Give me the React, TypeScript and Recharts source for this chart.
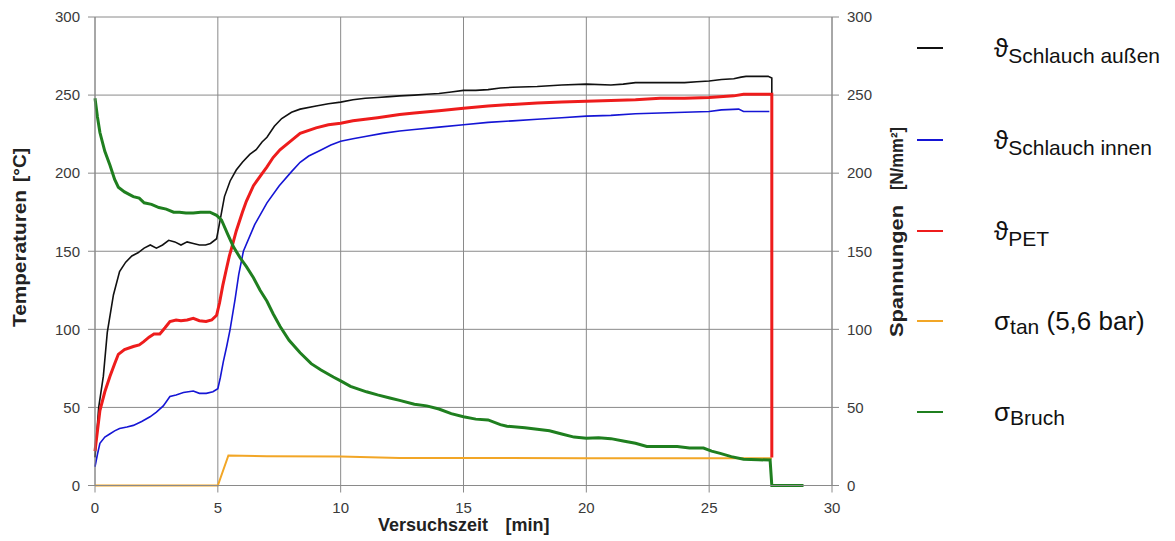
import { LineChart, Line, XAxis, YAxis, CartesianGrid } from "recharts";

// Versuchszeit [min] -> Temperatur [°C] bzw. Spannung [N/mm²]
const schlauchAussen: [number, number][] = [
  [0, 18], [0.15, 50], [0.34, 70], [0.5, 98], [0.75, 122], [1.0, 137], [1.25, 143], [1.5, 147],
  [1.75, 149], [2.0, 152], [2.25, 154], [2.5, 152], [2.75, 154], [3.0, 157], [3.25, 156], [3.5, 154],
  [3.75, 156], [4.0, 155], [4.25, 154], [4.5, 154], [4.7, 155], [4.95, 158], [5.07, 168], [5.27, 185],
  [5.5, 195], [5.75, 202], [6.0, 207], [6.3, 212], [6.56, 215], [6.8, 220], [7.0, 223], [7.3, 230],
  [7.6, 235], [8.0, 239], [8.35, 241], [9.0, 243], [9.5, 244.5], [10, 245.5], [10.5, 247], [11, 248],
  [11.5, 248.5], [12, 249], [12.4, 249.5], [13, 250], [13.5, 250.5], [14, 251], [14.5, 252], [15, 253],
  [15.5, 253], [16, 253.5], [16.5, 254.5], [17, 255], [18, 255.5], [19, 256.5], [20, 257], [21, 256.5],
  [21.5, 257], [22, 258], [23, 258], [24, 258], [24.5, 258.5], [25, 259], [25.5, 260], [26, 260.5],
  [26.3, 261.5], [26.5, 262], [27, 262], [27.4, 262], [27.55, 261], [27.55, 250],
];

const schlauchInnen: [number, number][] = [
  [0, 12], [0.1, 20], [0.2, 27], [0.4, 31], [0.6, 33], [0.8, 35], [1.0, 36.5], [1.3, 37.5],
  [1.56, 38.5], [1.9, 41], [2.24, 44], [2.5, 47], [2.78, 51], [3.05, 57], [3.3, 58], [3.6, 59.5],
  [4.0, 60.5], [4.25, 59], [4.53, 59], [4.8, 60], [5.0, 62], [5.1, 69], [5.22, 79], [5.36, 89],
  [5.5, 100], [5.7, 119], [5.85, 135], [6.04, 150], [6.5, 167], [7.0, 181], [7.5, 192], [8.0, 201],
  [8.35, 207], [8.7, 211], [9.16, 214.5], [9.6, 218], [10, 220.5], [10.5, 222], [11, 223.5],
  [11.7, 225.5], [12.4, 227], [13, 228], [14, 229.5], [15, 231], [16, 232.5], [17, 233.5], [18, 234.5],
  [19, 235.5], [20, 236.5], [21, 237], [22, 238], [23, 238.5], [24, 239], [25, 239.5], [25.5, 240.5],
  [26.2, 241], [26.4, 239.5], [27, 239.5], [27.45, 239.5],
];

const pet: [number, number][] = [
  [0, 22], [0.1, 35], [0.2, 48], [0.4, 60], [0.61, 70], [0.8, 78], [0.95, 84], [1.2, 87], [1.56, 89],
  [1.8, 90], [1.97, 92], [2.2, 95], [2.4, 97], [2.64, 97], [2.85, 101], [3.05, 105], [3.3, 106],
  [3.5, 105.5], [3.75, 106], [4.0, 107], [4.25, 105.5], [4.52, 105], [4.75, 106], [4.95, 109],
  [5.07, 117], [5.2, 128], [5.34, 138], [5.47, 147], [5.56, 152], [5.75, 163], [6.0, 175], [6.16, 182],
  [6.45, 192], [6.72, 198], [7.0, 204], [7.25, 210], [7.53, 215], [8.0, 221], [8.35, 225.5], [9.0, 229],
  [9.5, 231], [10, 232], [10.5, 233.5], [11, 234.5], [11.5, 235.5], [12.4, 237.5], [13, 238.5], [14, 240],
  [15, 241.5], [16, 243], [17, 244], [18, 245], [19, 245.5], [20, 246], [21, 246.5], [22, 247], [23, 248],
  [24, 248], [25, 248.5], [26, 249.5], [26.4, 250.5], [27, 250.5], [27.55, 250.5], [27.55, 18],
];

const sigmaTan: [number, number][] = [
  [0, 0], [5.0, 0], [5.43, 19.2], [7, 18.8], [10, 18.5], [12.4, 17.6], [20, 17.5], [27.55, 17.5],
];

const sigmaBruch: [number, number][] = [
  [0, 248], [0.1, 236], [0.2, 226], [0.4, 214], [0.61, 205], [0.8, 196], [0.95, 191], [1.2, 188],
  [1.56, 185], [1.8, 184], [2.0, 181], [2.3, 180], [2.6, 178], [2.9, 177], [3.2, 175], [3.44, 175],
  [3.7, 174.5], [4.0, 174.5], [4.3, 175], [4.68, 175], [4.95, 173], [5.15, 170], [5.4, 161], [5.63, 153],
  [5.9, 146], [6.17, 140], [6.45, 133], [6.72, 125], [7.0, 118], [7.25, 110], [7.53, 102], [7.9, 93],
  [8.35, 85], [8.8, 78], [9.2, 74], [9.7, 69.5], [10.0, 67], [10.4, 63.5], [11.05, 60], [11.5, 58],
  [12.0, 56], [12.4, 54.5], [13, 52], [13.5, 51], [14, 49], [14.5, 46], [15, 44], [15.5, 42.5], [16, 42],
  [16.5, 39], [16.77, 38], [17.5, 37], [18, 36], [18.5, 35], [19, 33], [19.5, 31], [20, 30.2], [20.5, 30.5],
  [21, 30], [21.5, 28.5], [22, 27], [22.46, 25], [23, 25], [23.7, 25], [24.2, 24], [24.77, 24], [25.1, 22],
  [25.45, 20.6], [25.9, 18.5], [26.4, 16.8], [27, 16.5], [27.48, 16.3], [27.55, 0], [28.84, 0],
];

const xTicks = [0, 5, 10, 15, 20, 25, 30];
const yTicks = [0, 50, 100, 150, 200, 250, 300];

const toRows = (pts: [number, number][]) => pts.map(([t, v]) => ({ t, v }));

const FONT = "Arial, 'Liberation Sans', sans-serif";
const GRID = "#8a8a8a";
const tickStyle = { fill: "#3a3a3a", fontSize: 15, fontFamily: FONT };

const legend = [
  { sym: "\u03D1", sub: "Schlauch außen", rest: "", color: "#111111", y: 48 },
  { sym: "\u03D1", sub: "Schlauch innen", rest: "", color: "#1515d5", y: 140 },
  { sym: "\u03D1", sub: "PET", rest: "", color: "#ee1c1c", y: 231 },
  { sym: "\u03C3", sub: "tan", rest: " (5,6 bar)", color: "#f2a626", y: 321 },
  { sym: "\u03C3", sub: "Bruch", rest: "", color: "#1f7f1f", y: 412 },
];

export default function App() {
  return (
    <div style={{ position: "fixed", left: 0, top: 0, width: 1175, height: 541, background: "#fff" }}>
      <LineChart width={1175} height={541} margin={{ top: 17, right: 273, bottom: 0, left: 0 }}>
        <CartesianGrid yAxisId="l" stroke={GRID} strokeWidth={1} />
        <XAxis
          dataKey="t"
          type="number"
          domain={[0, 30]}
          ticks={xTicks}
          height={55.5}
          stroke={GRID}
          tickSize={7}
          tickMargin={10}
          tick={tickStyle}
          label={{
            content: () => (
              <text y={531} fontFamily={FONT} fontSize={18} fontWeight="bold" fill="#222">
                <tspan x={378}>Versuchszeit</tspan>
                <tspan x={505.5}>[min]</tspan>
              </text>
            ),
          }}
        />
        <YAxis
          yAxisId="l"
          domain={[0, 300]}
          ticks={yTicks}
          width={95}
          stroke={GRID}
          tickSize={7}
          tickMargin={8}
          tick={tickStyle}
          label={{
            content: () => (
              <g fontFamily={FONT} fontSize={18} fontWeight="bold" fill="#222">
                <text x={26} y={258.5} transform="rotate(-90 26 258.5)" textAnchor="middle" textLength={137} lengthAdjust="spacingAndGlyphs">
                  Temperaturen
                </text>
                <text x={26} y={165} transform="rotate(-90 26 165)" textAnchor="middle" textLength={34} lengthAdjust="spacingAndGlyphs">
                  [°C]
                </text>
              </g>
            ),
          }}
        />
        <YAxis
          yAxisId="r"
          orientation="right"
          domain={[0, 300]}
          ticks={yTicks}
          width={70}
          stroke={GRID}
          tickSize={7}
          tickMargin={8}
          tick={tickStyle}
          label={{
            content: () => (
              <g fontFamily={FONT} fontSize={18} fontWeight="bold" fill="#222">
                <text x={903} y={271} transform="rotate(-90 903 271)" textAnchor="middle" textLength={132} lengthAdjust="spacingAndGlyphs">
                  Spannungen
                </text>
                <text x={903} y={158.5} transform="rotate(-90 903 158.5)" textAnchor="middle" textLength={63} lengthAdjust="spacingAndGlyphs">
                  [N/mm²]
                </text>
              </g>
            ),
          }}
        />
        <Line yAxisId="r" data={toRows(sigmaTan)} dataKey="v" type="linear" stroke="#f2a626" strokeWidth={2} dot={false} isAnimationActive={false} />
        <Line yAxisId="l" data={toRows(schlauchInnen)} dataKey="v" type="linear" stroke="#1515d5" strokeWidth={1.6} dot={false} isAnimationActive={false} />
        <Line yAxisId="l" data={toRows(schlauchAussen)} dataKey="v" type="linear" stroke="#111111" strokeWidth={1.6} dot={false} isAnimationActive={false} />
        <Line yAxisId="l" data={toRows(pet)} dataKey="v" type="linear" stroke="#ee1c1c" strokeWidth={3} dot={false} isAnimationActive={false} />
        <Line yAxisId="r" data={toRows(sigmaBruch)} dataKey="v" type="linear" stroke="#1f7f1f" strokeWidth={3} dot={false} isAnimationActive={false} />
      </LineChart>
      <svg width={1175} height={541} style={{ position: "absolute", left: 0, top: 0, pointerEvents: "none" }}>
        {legend.map((e) => (
          <g key={e.sub}>
            <line x1={917} x2={943} y1={e.y} y2={e.y} stroke={e.color} strokeWidth={2} />
            <text x={994} y={e.y + 9} fontFamily={FONT} fontSize={26} fill="#111">
              {e.sym}
              <tspan fontSize={21} dy={e.sym === "\u03C3" ? 4 : 6}>{e.sub}</tspan>
              {e.rest ? <tspan fontSize={26} dy={-4}>{e.rest}</tspan> : null}
            </text>
          </g>
        ))}
      </svg>
    </div>
  );
}
